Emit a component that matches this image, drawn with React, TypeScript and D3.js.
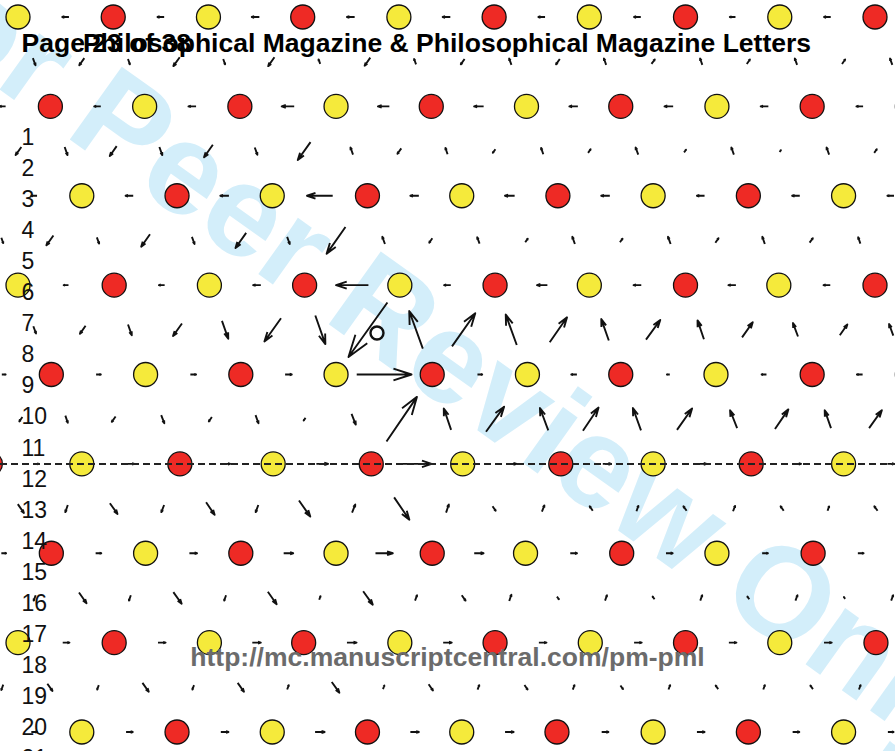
import React from "react";
import * as d3 from "d3";

// ---------- data (lattice units: x along row, row index) ----------
const ROW_X: number[][] = [
  [0, 1, 2, 2.99, 4, 5, 6, 7.01, 8, 9],
  [-0.66, 0.34, 1.33, 2.33, 3.34, 4.34, 5.34, 6.33, 7.34, 8.34, 9.34],
  [-0.33, 0.67, 1.67, 2.67, 3.67, 4.66, 5.67, 6.67, 7.67, 8.67, 9.66],
  [0, 1.01, 2.01, 3.01, 4.01, 5.01, 6, 7.01, 7.99, 9],
  [-0.65, 0.35, 1.34, 2.34, 3.34, 4.35, 5.35, 6.33, 7.33, 8.34, 9.34],
  [-0.29, 0.67, 1.7, 2.68, 3.71, 4.67, 5.7, 6.67, 7.7, 8.67, 9.66],
  [-0.65, 0.35, 1.34, 2.34, 3.34, 4.35, 5.33, 6.34, 7.34, 8.35, 9.35],
  [-1.0, 0, 1.01, 2.01, 3.0, 4.01, 5.01, 6.01, 7.01, 8.0, 9.01],
  [-0.33, 0.67, 1.67, 2.67, 3.67, 4.66, 5.66, 6.67, 7.67, 8.67, 9.66],
];
const ROW_TYPES: string[] = [
  "YRYRYRYRYR",
  "YRYRYRYRYRY",
  "RYRYRYRYRYR",
  "YRYRYRYRYR",
  "YRYRYRYRYRY",
  "RYRYRYRYRYR",
  "YRYRYRYRYRY",
  "RYRYRYRYRYR",
  "RYRYRYRYRYR",
];

// differential displacement (fraction of pair vector), within rows (left -> right)
const WITHIN: number[][] = [
  [-0.07, -0.07, -0.08, -0.08, -0.08, -0.07, -0.07, -0.06, -0.07],
  [-0.06, -0.07, -0.08, -0.13, -0.12, -0.1, -0.09, -0.09, -0.08, -0.07],
  [-0.06, -0.08, -0.09, -0.27, -0.09, -0.1, -0.09, -0.08, -0.08, -0.07],
  [-0.05, -0.06, -0.08, -0.34, -0.07, -0.11, -0.08, -0.08, -0.07],
  [0.04, 0.05, 0.06, 0.07, 0.57, 0.05, -0.06, -0.03, -0.05, -0.06],
  [0.06, 0.07, 0.08, 0.12, 0.32, 0.1, 0.09, 0.09, 0.08, 0.07],
  [0.05, 0.06, 0.08, 0.1, 0.18, 0.1, 0.07, 0.07, 0.06, 0.06],
  [0.07, 0.08, 0.09, 0.1, 0.09, 0.08, 0.08, 0.08, 0.08],
  [0.06, 0.07, 0.08, 0.1, 0.09, 0.09, 0.07, 0.08, 0.07, 0.06],
];
// between rows r and r+1 (upper -> lower), ordered left to right
const BETWEEN: number[][] = [
  [0.08, 0.08, 0.06, 0.1, 0.06, 0.1, -0.05, 0.09, -0.06, 0.06, -0.07, 0.06, -0.07, -0.05, -0.07, -0.05, -0.07, -0.05, -0.07],
  [0.09, 0.09, 0.11, 0.09, 0.14, 0.08, 0.2, -0.08, 0.06, -0.07, 0.04, -0.07, -0.04, -0.08, -0.03, -0.08, -0.02, -0.08, -0.04],
  [0.06, 0.11, 0.07, 0.14, 0.08, 0.17, 0.08, 0.3, -0.08, 0.05, -0.07, -0.04, -0.08, -0.04, -0.08, -0.05, -0.08, -0.05, -0.07],
  [0.08, 0.09, 0.12, 0.14, 0.2, 0.26, 0.32, 0.61, -0.42, -0.37, -0.34, -0.28, -0.24, -0.22, -0.21, -0.17, -0.15, -0.12, -0.13],
  [0.05, 0.08, 0.06, 0.09, 0.05, 0.09, 0.03, 0.12, -0.5, -0.24, -0.28, -0.25, -0.26, -0.25, -0.24, -0.2, -0.22, -0.2, -0.2],
  [0.1, 0.08, 0.12, 0.08, 0.14, 0.08, 0.18, -0.09, 0.25, -0.09, 0.05, -0.07, -0.05, -0.06, -0.05, -0.06, -0.05, -0.05, -0.05],
  [0.06, 0.12, 0.06, 0.13, 0.06, 0.14, -0.04, 0.15, -0.06, 0.06, -0.07, 0.03, -0.06, -0.03, -0.06, -0.03, -0.06, -0.02, -0.06],
  [0.06, 0.08, 0.05, 0.1, 0.05, 0.1, -0.05, 0.12, -0.04, 0.07, -0.05, 0.05, -0.05, 0.04, -0.05, -0.04, -0.05, -0.04, -0.05],
];

const CORE = { x: 3.77, row: 3.535 };
const TWIN_ROW = 5;
const LINE_NUMBERS = ["1", "2", "3", "4", "5", "6", "7", "8", "9", "10", "11", "12", "13", "14", "15", "16", "17", "18", "19", "20", "21"];
const HEADER_LEFT = "Page 23 of 38";
const HEADER = "Philosophical Magazine & Philosophical Magazine Letters";
const FOOTER = "http://mc.manuscriptcentral.com/pm-pml";
const WATERMARK = "For Peer Review Only";

const W = 895;
const H = 751;
const FONT = "'Liberation Sans', Arial, Helvetica, sans-serif";
const RED = "#ee2a25";
const YELLOW = "#f5ea3b";

export default function App() {
  const xS = d3.scaleLinear().domain([0, 9]).range([18, 875]);
  const yS = d3.scaleLinear().domain([0, 8]).range([17, 732]);

  const atoms = ROW_X.map((xs, r) =>
    xs.map((x, i) => ({ px: xS(x), py: yS(r), t: ROW_TYPES[r][i] }))
  );

  type Arrow = { x1: number; y1: number; x2: number; y2: number };
  const arrows: Arrow[] = [];
  const inView = (m: number) => m >= -6 && m <= 900;
  const addArrow = (a: { px: number; py: number }, b: { px: number; py: number }, m: number) => {
    const dx = b.px - a.px, dy = b.py - a.py;
    const mx = (a.px + b.px) / 2, my = (a.py + b.py) / 2;
    const u = m * dx, v = m * dy;
    arrows.push({ x1: mx - u / 2, y1: my - v / 2, x2: mx + u / 2, y2: my + v / 2 });
  };

  atoms.forEach((row, r) => {
    const pairs: [any, any][] = [];
    for (let i = 0; i < row.length - 1; i++) pairs.push([row[i], row[i + 1]]);
    const vis = pairs.filter(([a, b]) => inView((a.px + b.px) / 2));
    vis.forEach(([a, b], k) => addArrow(a, b, WITHIN[r][k] ?? 0));
  });
  for (let r = 0; r < atoms.length - 1; r++) {
    const up = ROW_X[r], lo = ROW_X[r + 1];
    const pairs: { a: any; b: any; mid: number }[] = [];
    up.forEach((xu, i) =>
      lo.forEach((xl, j) => {
        if (Math.abs(xu - xl) < 0.8) {
          const a = atoms[r][i], b = atoms[r + 1][j];
          pairs.push({ a, b, mid: (a.px + b.px) / 2 });
        }
      })
    );
    pairs.sort((p, q) => p.mid - q.mid);
    pairs.filter((p) => inView(p.mid)).forEach((p, k) => addArrow(p.a, p.b, BETWEEN[r][k] ?? 0));
  }

  const arrowPath = (a: Arrow) => {
    const u = a.x2 - a.x1, v = a.y2 - a.y1;
    const al = 0.33, be = 0.33;
    const w1x = a.x2 - al * (u + be * v), w1y = a.y2 - al * (v - be * u);
    const w2x = a.x2 - al * (u - be * v), w2y = a.y2 - al * (v + be * u);
    return `M${a.x1},${a.y1}L${a.x2},${a.y2}M${w1x},${w1y}L${a.x2},${a.y2}L${w2x},${w2y}`;
  };

  const lnY = d3.scaleLinear().domain([1, 20]).range([145, 735]);

  return (
    <svg
      width={W}
      height={H}
      style={{ position: "absolute", left: 0, top: 0, background: "#fff" }}
      fontFamily={FONT}
    >
      <rect x={0} y={0} width={W} height={H} fill="#fff" />
      <text
        transform={`translate(407,380) rotate(35.5)`}
        textAnchor="middle"
        fontSize={130}
        fontWeight="bold"
        fill="#d3eefa"
      >
        {WATERMARK}
      </text>
      <g>
        {arrows.map((a, i) => (
          <path key={i} d={arrowPath(a)} fill="none" stroke="#111" strokeWidth={1.9} strokeLinejoin="round" />
        ))}
      </g>
      <g>
        {atoms.flat().map((a, i) => (
          <circle key={i} cx={a.px} cy={a.py} r={12} fill={a.t === "R" ? RED : YELLOW} stroke="#111" strokeWidth={1.3} />
        ))}
      </g>
      <line x1={0} x2={W} y1={yS(TWIN_ROW)} y2={yS(TWIN_ROW)} stroke="#222" strokeWidth={2} strokeDasharray="7,4" />
      <circle cx={xS(CORE.x)} cy={yS(CORE.row)} r={6.5} fill="none" stroke="#111" strokeWidth={2.4} />
      <g fontSize={23} fill="#111">
        {LINE_NUMBERS.map((t, i) => (
          <text key={t} x={21.5} y={lnY(i + 1)}>
            {t}
          </text>
        ))}
      </g>
      <g fontWeight="bold" fontSize={25} fill="#000">
        <text transform="translate(21.5,51.5) scale(1.062,1)">{HEADER_LEFT}</text>
        <text transform="translate(447,51.5) scale(1.062,1)" textAnchor="middle">
          {HEADER}
        </text>
        <text transform="translate(447.5,665.5) scale(1.062,1)" textAnchor="middle" fill="#6b6b6b">
          {FOOTER}
        </text>
      </g>
    </svg>
  );
}
